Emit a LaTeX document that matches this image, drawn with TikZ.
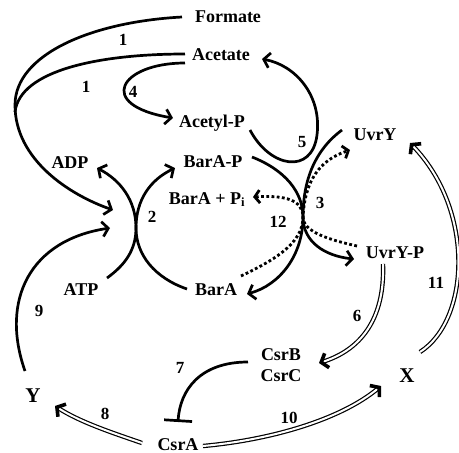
\documentclass[tikz,border=0pt]{standalone}
\usepackage{fontspec}
\setmainfont{Liberation Serif}
\usetikzlibrary{arrows.meta}
\begin{document}
\begin{tikzpicture}[x=1pt,y=-1pt,
  lbl/.style={font=\fontsize{18}{20}\selectfont\bfseries, inner sep=0pt, text height=12pt, text depth=0pt},
  biglbl/.style={font=\fontsize{21}{22}\selectfont\bfseries, inner sep=0pt, text height=14pt, text depth=0pt},
  num/.style={font=\fontsize{17}{20}\selectfont\bfseries, inner sep=0pt, text height=11pt, text depth=0pt},
  conn/.style={line width=2.7pt, -{Straight Barb[length=6pt,width=15pt]}},
  plainline/.style={line width=2.7pt},
  dots/.style={line width=2.8pt, dash pattern=on 2.8pt off 2.4pt, -{Straight Barb[length=5pt,width=13pt]}},
  dbl/.style={double, double distance=2pt, line width=1.2pt, shorten >=4pt},
  dbltip/.style={tips, line width=3.6pt, -{Straight Barb[length=6pt,width=15pt]}},
  inhib/.style={line width=2.7pt, -{Bar[width=28pt]}}
]
\useasboundingbox (0,0) rectangle (459,453);
% text nodes
\node[lbl] (formate) at (228,16) {Formate};
\node[lbl] (acetate) at (221,54) {Acetate};
\node[lbl] (acetylp) at (212,121) {Acetyl-P};
\node[lbl] (adp) at (70,162) {ADP};
\node[lbl] (barap) at (213,161) {BarA-P};
\node[lbl] (barapi) at (207,198) {BarA + P\textsubscript{i}};
\node[lbl] (atp) at (81,289) {ATP};
\node[lbl] (bara) at (216,289) {BarA};
\node[lbl] (uvry) at (375,134) {UvrY};
\node[lbl] (uvryp) at (395,252) {UvrY-P};
\node[lbl] (csrb) at (281,354) {CsrB};
\node[lbl] (csrc) at (281,375) {CsrC};
\node[biglbl] (x) at (407,375) {X};
\node[biglbl] (y) at (33,395) {Y};
\node[lbl] (csra) at (178,444) {CsrA};
% number labels
\node[num] (n1a) at (123,40) {1};
\node[num] (n1b) at (86,87) {1};
\node[num] (n4) at (133,92) {4};
\node[num] (n2) at (152,217) {2};
\node[num] (n5) at (302,142) {5};
\node[num] (n3) at (320,203) {3};
\node[num] (n12) at (278,222) {12};
\node[num] (n6) at (357,316) {6};
\node[num] (n11) at (436,283) {11};
\node[num] (n7) at (180,368) {7};
\node[num] (n8) at (105,414) {8};
\node[num] (n9) at (39,311) {9};
\node[num] (n10) at (289,418) {10};
% connector end points
\coordinate (fs) at (182,17);
\coordinate (as1) at (185,54);
\coordinate (as2) at (185,63);
\coordinate (merge) at (15,112);
\coordinate (j2a) at (113,210);
\coordinate (j2b) at (110,228);
\coordinate (a4t) at (173,118);
\coordinate (a5s) at (250,130);
\coordinate (a5t) at (262,59);
\coordinate (j3) at (303,217);
\coordinate (b3s) at (252,157);
\coordinate (b3t) at (354,259);
\coordinate (u3s) at (342,130);
\coordinate (u3t) at (247,294);
\coordinate (d1s) at (241,276);
\coordinate (d1t) at (350,150);
\coordinate (d2s) at (357,246);
\coordinate (d2t) at (253,197);
\coordinate (j2) at (136,228);
\coordinate (atps) at (107,278);
\coordinate (adpt) at (97,168);
\coordinate (baras) at (187,289);
\coordinate (barapt) at (175,168);
\coordinate (ys) at (25,371);
\coordinate (cas1) at (142,443);
\coordinate (yt) at (55,406);
\coordinate (cas2) at (203,446);
\coordinate (xt) at (381,386);
\coordinate (xs) at (420,352);
\coordinate (uvt) at (410,143);
\coordinate (ups) at (383,264);
\coordinate (cbt) at (319,363);
\coordinate (cbs) at (248,362);
\coordinate (cat) at (178,422);
% 1: formate, acetate
\draw[conn] (fs) .. controls (90,22) and (15,55) .. (15,105) .. controls (15,160) and (70,195) .. (j2a);
\draw[plainline] (as1) .. controls (100,54) and (20,70) .. (merge);
% 4
\draw[conn] (as2) .. controls (120,63) and (95,105) .. (a4t);
% 5
\draw[conn] (a5s) .. controls (270,168) and (312,175) .. (317,135) .. controls (322,95) and (295,65) .. (a5t);
% 3
\draw[conn] (b3s) .. controls (285,170) and (303,192) .. (j3) .. controls (303,242) and (325,256) .. (b3t);
\draw[conn] (u3s) .. controls (315,150) and (303,180) .. (j3) .. controls (303,255) and (280,285) .. (u3t);
% 12 dotted
\draw[dots] (d1s) .. controls (270,262) and (303,245) .. (j3) .. controls (305,180) and (320,160) .. (d1t);
\draw[dots] (d2s) .. controls (330,240) and (303,232) .. (j3) .. controls (303,200) and (285,195) .. (d2t);
% 2
\draw[conn] (atps) .. controls (125,265) and (136,250) .. (j2) .. controls (136,200) and (120,180) .. (adpt);
\draw[conn] (baras) .. controls (155,278) and (136,255) .. (j2) .. controls (136,200) and (150,180) .. (barapt);
% 9
\draw[conn] (ys) .. controls (0,300) and (30,240) .. (j2b);
% 8, 10, 11, 6 (double lines with solid heads)
\draw[dbl] (cas1) .. controls (110,432) and (80,422) .. (yt);
\path[dbltip] (cas1) .. controls (110,432) and (80,422) .. (yt);
\draw[dbl] (cas2) .. controls (270,440) and (340,420) .. (xt);
\path[dbltip] (cas2) .. controls (270,440) and (340,420) .. (xt);
\draw[dbl] (xs) .. controls (470,320) and (475,210) .. (uvt);
\path[dbltip] (xs) .. controls (470,320) and (475,210) .. (uvt);
\draw[dbl] (ups) .. controls (385,320) and (360,350) .. (cbt);
\path[dbltip] (ups) .. controls (385,320) and (360,350) .. (cbt);
% 7
\draw[inhib] (cbs) .. controls (200,362) and (180,390) .. (cat);
\end{tikzpicture}
\end{document}
